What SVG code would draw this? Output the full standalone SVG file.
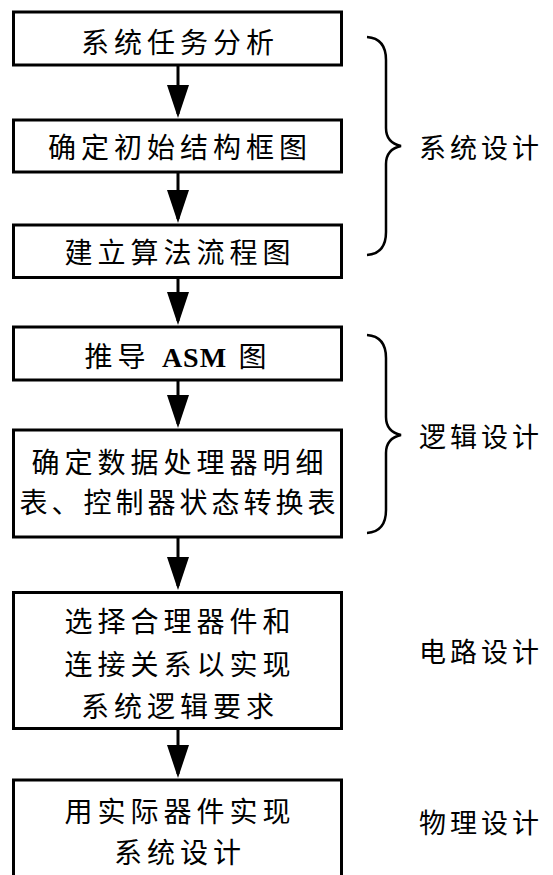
<svg xmlns="http://www.w3.org/2000/svg" width="553" height="875" viewBox="0 0 553 875">
<style>
.box{fill:#fff;stroke:#000;stroke-width:3}
.t{font-family:"Noto Sans CJK SC","Noto Sans CJK JP",sans-serif;font-size:28px;letter-spacing:5px;text-anchor:middle;fill:#000}
.lbl{font-family:"Noto Sans CJK SC","Noto Sans CJK JP",sans-serif;font-size:27px;letter-spacing:4px;fill:#000}
.asm{font-family:"Liberation Serif",serif;font-weight:bold;letter-spacing:1px}
.conn{stroke:#000;stroke-width:3;fill:none}
.brace{stroke:#000;stroke-width:2.5;fill:none}
</style>
<defs>
<marker id="ah" viewBox="0 0 33 22" markerWidth="33" markerHeight="22" refX="29" refY="11" orient="auto" markerUnits="userSpaceOnUse">
<path d="M0,0 L33,11 L0,22 Z" fill="#000"/>
</marker>
</defs>
<rect width="553" height="875" fill="#fff"/>

<g id="n1"><rect class="box" x="13.5" y="12" width="328" height="53"/><text class="t" x="180" y="52.5">系统任务分析</text></g>
<g id="n2"><rect class="box" x="13.5" y="120" width="328" height="52"/><text class="t" x="180" y="158">确定初始结构框图</text></g>
<g id="n3"><rect class="box" x="13.5" y="225" width="328" height="52.5"/><text class="t" x="180" y="263">建立算法流程图</text></g>
<g id="n4"><rect class="box" x="13.5" y="327" width="328" height="53"/><text class="t" x="178" y="367">推导 <tspan class="asm">ASM</tspan> 图</text></g>
<g id="n5"><rect class="box" x="13.5" y="430" width="328" height="107"/><text class="t" x="180" y="473">确定数据处理器明细</text><text class="t" x="179.5" y="513" style="letter-spacing:4px">表、控制器状态转换表</text></g>
<g id="n6"><rect class="box" x="13.5" y="592.5" width="328" height="136"/><text class="t" x="180" y="632">选择合理器件和</text><text class="t" x="180" y="675">连接关系以实现</text><text class="t" x="180" y="717">系统逻辑要求</text></g>
<g id="n7"><rect class="box" x="13.5" y="780" width="328" height="110"/><text class="t" x="180" y="822">用实际器件实现</text><text class="t" x="180" y="863">系统设计</text></g>

<g id="connectors">
<line class="conn" x1="178" y1="65" x2="178" y2="114" marker-end="url(#ah)"/>
<line class="conn" x1="178" y1="172" x2="178" y2="219" marker-end="url(#ah)"/>
<line class="conn" x1="178" y1="277.5" x2="178" y2="321" marker-end="url(#ah)"/>
<line class="conn" x1="178" y1="380" x2="178" y2="424" marker-end="url(#ah)"/>
<line class="conn" x1="178" y1="537" x2="178" y2="586" marker-end="url(#ah)"/>
<line class="conn" x1="178" y1="728.5" x2="178" y2="774" marker-end="url(#ah)"/>
</g>

<g id="brace1"><path class="brace" d="M367,37 C380,38 386,46 386,60 L386,128 C386,138 392,144 401,146 C392,148 386,154 386,164 L386,232 C386,246 380,254 367,255"/></g>
<g id="brace2"><path class="brace" d="M367,335 C380,336 386,344 386,358 L386,417 C386,427 392,433 401,435 C392,437 386,443 386,453 L386,510 C386,524 380,532 367,533"/></g>

<g id="labels">
<text class="lbl" x="419" y="158">系统设计</text>
<text class="lbl" x="419" y="447">逻辑设计</text>
<text class="lbl" x="419" y="662">电路设计</text>
<text class="lbl" x="419" y="833">物理设计</text>
</g>
</svg>
